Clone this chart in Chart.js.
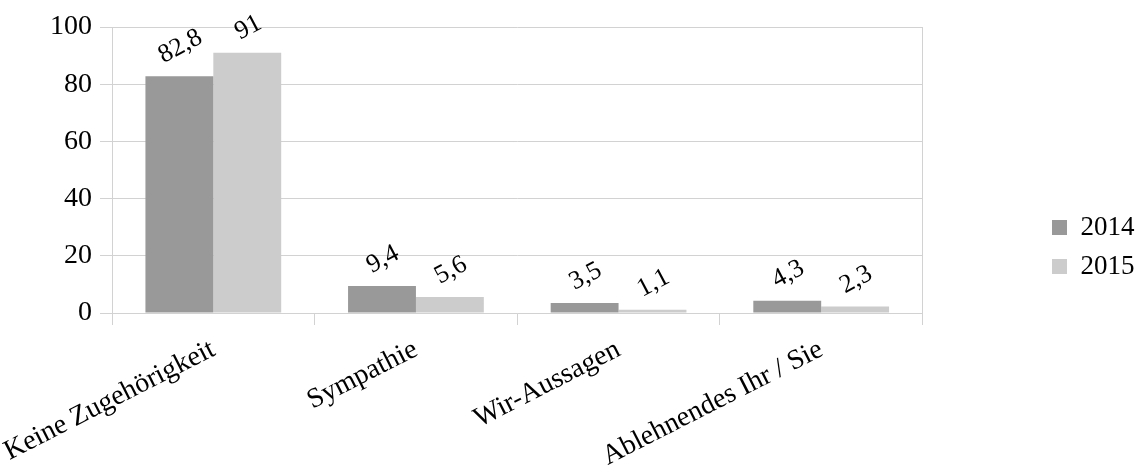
<!DOCTYPE html>
<html><head><meta charset="utf-8">
<script src="https://cdn.jsdelivr.net/npm/chart.js@4"></script>
<style>html,body{margin:0;padding:0;background:#fff}</style>
</head><body>
<canvas id="c" width="1138" height="473"></canvas>
<script>
const categories = ['Keine Zugehörigkeit', 'Sympathie', 'Wir-Aussagen', 'Ablehnendes Ihr / Sie'];
const seriesNames = ['2014', '2015'];
const values2014 = [82.8, 9.4, 3.5, 4.3];
const values2015 = [91, 5.6, 1.1, 2.3];
const yTickLabels = [0, 20, 40, 60, 80, 100];

const FONT = '"Liberation Serif", "Times New Roman", serif';
Chart.defaults.font.family = FONT;
Chart.defaults.color = '#000';
const GRID = '#d2d2d2';

const valueLabels = {
  id: 'valueLabels',
  afterDatasetsDraw(chart) {
    const ctx = chart.ctx;
    ctx.save();
    ctx.font = '26px ' + FONT;
    ctx.fillStyle = '#000';
    ctx.textAlign = 'center';
    ctx.textBaseline = 'middle';
    const ang = -28 * Math.PI / 180;
    chart.data.datasets.forEach((ds, di) => {
      const meta = chart.getDatasetMeta(di);
      meta.data.forEach((bar, i) => {
        const txt = String(ds.data[i]).replace('.', ',');
        const w = ctx.measureText(txt).width, h = 18;
        const half = (w * Math.sin(-ang) + h * Math.cos(ang)) / 2;
        ctx.save();
        ctx.translate(bar.x + 1, bar.y - 11 - half);
        ctx.rotate(ang);
        ctx.fillText(txt, 0, 0);
        ctx.restore();
      });
    });
    ctx.restore();
  }
};

const placeLegend = {
  id: 'placeLegend',
  afterLayout(chart) {
    const lg = chart.legend;
    if (!lg) return;
    lg.left = 1040; lg.right = 1138;
    lg.top = 202; lg.bottom = 473;
  }
};

new Chart(document.getElementById('c'), {
  type: 'bar',
  data: {
    labels: categories,
    datasets: [
      { label: seriesNames[0], data: values2014, backgroundColor: '#999999', yAxisID: 'y' },
      { label: seriesNames[1], data: values2015, backgroundColor: '#cccccc', yAxisID: 'y' }
    ]
  },
  options: {
    responsive: false,
    animation: false,
    datasets: { bar: { categoryPercentage: 0.67, barPercentage: 1.0 } },
    layout: { padding: { left: 42, top: 27, right: 111, bottom: 0 } },
    plugins: {
      tooltip: { enabled: false },
      legend: {
        position: 'right',
        align: 'start',
        labels: { boxWidth: 15, boxHeight: 15, padding: 12, font: { size: 27 }, color: '#000' }
      }
    },
    scales: {
      x: {
        grid: { offset: true, drawOnChartArea: false, color: GRID, tickLength: 12 },
        border: { color: GRID },
        ticks: { maxRotation: 27, minRotation: 27, padding: 8, font: { size: 28 }, color: '#000' },
        afterFit(s) { s.paddingLeft = 0; s.paddingRight = 0; s.height = 160; }
      },
      y: {
        min: 0, max: 100,
        grid: { color: GRID, tickLength: 12 },
        border: { color: GRID },
        ticks: {
          stepSize: 10, padding: 8, font: { size: 28 }, color: '#000',
          callback: (v) => yTickLabels.includes(v) ? String(v) : ''
        }
      },
      y2: {
        position: 'right', min: 0, max: 100,
        grid: { drawOnChartArea: false, drawTicks: false },
        border: { display: true, color: GRID },
        ticks: { display: false }
      }
    }
  },
  plugins: [valueLabels, placeLegend]
});
</script>
</body></html>
